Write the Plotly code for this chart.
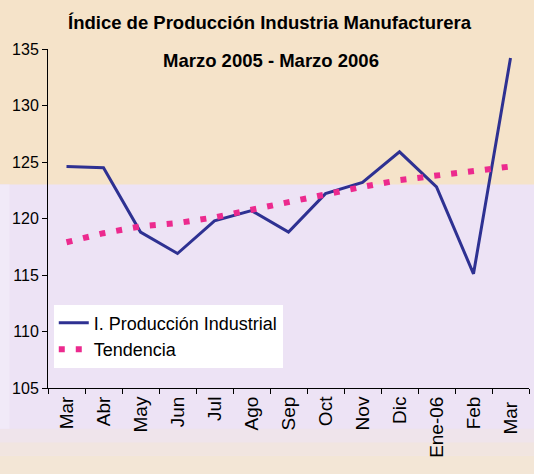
import plotly.graph_objects as go

months = ["Mar", "Abr", "May", "Jun", "Jul", "Ago", "Sep", "Oct", "Nov", "Dic", "Ene-06", "Feb", "Mar "]
produccion = [124.6, 124.5, 118.8, 116.9, 119.8, 120.7, 118.8, 122.2, 123.2, 125.9, 122.8, 115.1, 134.2]
tendencia = [117.9, 118.7, 119.3, 119.6, 120.1, 120.8, 121.5, 122.1, 122.8, 123.4, 123.8, 124.2, 124.6]
yticks = [105, 110, 115, 120, 125, 130, 135]

ARIAL = "Liberation Sans, Arial"

fig = go.Figure()
fig.add_trace(go.Scatter(
    x=months, y=produccion, mode="lines", name="I. Producción Industrial",
    line=dict(color="#2E3192", width=3)))
fig.add_trace(go.Scatter(
    x=months, y=tendencia, mode="lines", name="Tendencia",
    line=dict(color="#EC2A8E", width=6, dash="6px,11px")))

shapes = [
    dict(type="rect", xref="paper", yref="paper", x0=-0.2, x1=1.2, y0=0.6, y1=1.3,
         fillcolor="#F5E3C9", line_width=0, layer="below"),
    dict(type="rect", xref="paper", yref="paper", x0=-0.2, x1=1.2, y0=-0.12, y1=-0.16,
         fillcolor="#EFE4EB", line_width=0, layer="below"),
    dict(type="rect", xref="paper", yref="paper", x0=-0.2, x1=1.2, y0=-0.16, y1=-0.2,
         fillcolor="#F1E5E0", line_width=0, layer="below"),
    dict(type="rect", xref="paper", yref="paper", x0=-0.2, x1=1.2, y0=-0.2, y1=-0.5,
         fillcolor="#F3E6D6", line_width=0, layer="below"),
    dict(type="rect", xref="paper", yref="paper", x0=-0.2, x1=-0.08, y0=-0.12, y1=0.6,
         fillcolor="#F1EAF8", line_width=0, layer="below"),
]

fig.update_layout(
    width=534, height=474,
    margin=dict(l=48, r=5, t=49, b=86),
    paper_bgcolor="#EDE3F5",
    plot_bgcolor="rgba(0,0,0,0)",
    shapes=shapes,
    showlegend=True,
    legend=dict(
        x=0.012, y=0.246, xanchor="left", yanchor="top",
        bgcolor="white", borderwidth=0,
        font=dict(family=ARIAL, size=18, color="black"),
        tracegroupgap=0,
    ),
    annotations=[
        dict(text="<b>Índice de Producción Industria Manufacturera</b>", xref="paper", yref="paper",
             x=(270 - 48) / 481, y=(388.3 - 23) / 339, xanchor="center", yanchor="middle",
             showarrow=False, font=dict(family=ARIAL, size=18.5, color="black")),
        dict(text="<b>Marzo 2005 - Marzo 2006</b>", xref="paper", yref="paper",
             x=(271 - 48) / 481, y=(388.3 - 61) / 339, xanchor="center", yanchor="middle",
             showarrow=False, font=dict(family=ARIAL, size=18.5, color="black")),
    ],
)

fig.update_xaxes(
    type="category", showgrid=False, zeroline=False,
    showline=True, linecolor="black", linewidth=1,
    ticks="outside", tickson="boundaries", ticklen=5, tickcolor="black",
    tickangle=-90, tickfont=dict(family=ARIAL, size=19, color="black"),
    range=[-0.5, 12.5],
)
fig.update_yaxes(
    range=[105, 135], tickvals=yticks, showgrid=False, zeroline=False,
    showline=True, linecolor="black", linewidth=1,
    ticks="outside", ticklen=5, tickcolor="black",
    tickfont=dict(family=ARIAL, size=16, color="black"),
)

fig.write_html("out.html", post_script="document.body.style.margin='0';",
               config={"displayModeBar": False})
